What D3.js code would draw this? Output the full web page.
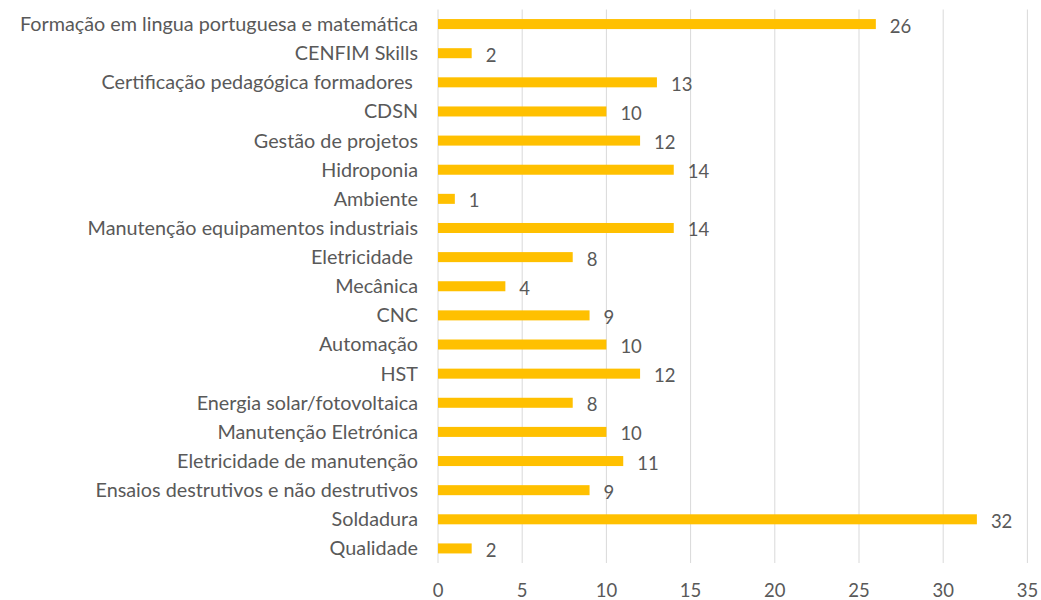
<!DOCTYPE html>
<html>
<head>
<meta charset="utf-8">
<script src="https://cdn.jsdelivr.net/npm/d3@7"></script>
<style>
  body { margin: 0; background: #fff; }
  text { font-family: Lato, "Open Sans", sans-serif; fill: #595959; white-space: pre; }
</style>
</head>
<body>
<script>
// Categories, top to bottom
const categories = [
    "Formação em lingua portuguesa e matemática",
    "CENFIM Skills",
    "Certificação pedagógica formadores ",
    "CDSN",
    "Gestão de projetos",
    "Hidroponia",
    "Ambiente",
    "Manutenção equipamentos industriais",
    "Eletricidade ",
    "Mecânica",
    "CNC",
    "Automação",
    "HST",
    "Energia solar/fotovoltaica",
    "Manutenção Eletrónica",
    "Eletricidade de manutenção",
    "Ensaios destrutivos e não destrutivos",
    "Soldadura",
    "Qualidade"
];
const values = [26, 2, 13, 10, 12, 14, 1, 14, 8, 4, 9, 10, 12, 8, 10, 11, 9, 32, 2];
const xTicks = [0, 5, 10, 15, 20, 25, 30, 35];

const width = 1041, height = 600;
const margin = { top: 9.5, right: 14, bottom: 37, left: 438 };

const svg = d3.select("body").append("svg")
    .attr("width", width)
    .attr("height", height);

const x = d3.scaleLinear()
    .domain([0, 35])
    .range([margin.left, margin.left + 35 * 16.84]);

const y = d3.scaleBand()
    .domain(categories)
    .range([margin.top, height - margin.bottom])
    .paddingInner(0.656)
    .paddingOuter(0.328);

// Gridlines
svg.append("g")
    .selectAll("line")
    .data(xTicks)
    .enter().append("line")
    .attr("x1", d => x(d))
    .attr("x2", d => x(d))
    .attr("y1", margin.top)
    .attr("y2", height - margin.bottom)
    .attr("stroke", "#d9d9d9")
    .attr("stroke-width", 1);

// X tick labels
svg.append("g")
    .selectAll("text")
    .data(xTicks)
    .enter().append("text")
    .attr("x", d => x(d))
    .attr("y", 591)
    .attr("dy", "0.35em")
    .attr("text-anchor", "middle")
    .attr("font-size", 18.5)
    .text(d => d);

// Bars
svg.append("g")
    .selectAll("rect")
    .data(values)
    .enter().append("rect")
    .attr("x", x(0))
    .attr("y", (d, i) => y(categories[i]))
    .attr("width", d => x(d) - x(0))
    .attr("height", y.bandwidth())
    .attr("fill", "#ffc000");

// Value labels
svg.append("g")
    .selectAll("text")
    .data(values)
    .enter().append("text")
    .attr("x", d => x(d) + 14)
    .attr("y", (d, i) => y(categories[i]) + y.bandwidth() / 2 + 2)
    .attr("dy", "0.35em")
    .attr("font-size", 18.5)
    .text(d => d);

// Category labels
svg.append("g")
    .selectAll("text")
    .data(categories)
    .enter().append("text")
    .attr("x", margin.left - 20)
    .attr("y", d => y(d) + y.bandwidth() / 2)
    .attr("dy", "0.35em")
    .attr("text-anchor", "end")
    .attr("font-size", 19.8)
    .text(d => d);
</script>
</body>
</html>
